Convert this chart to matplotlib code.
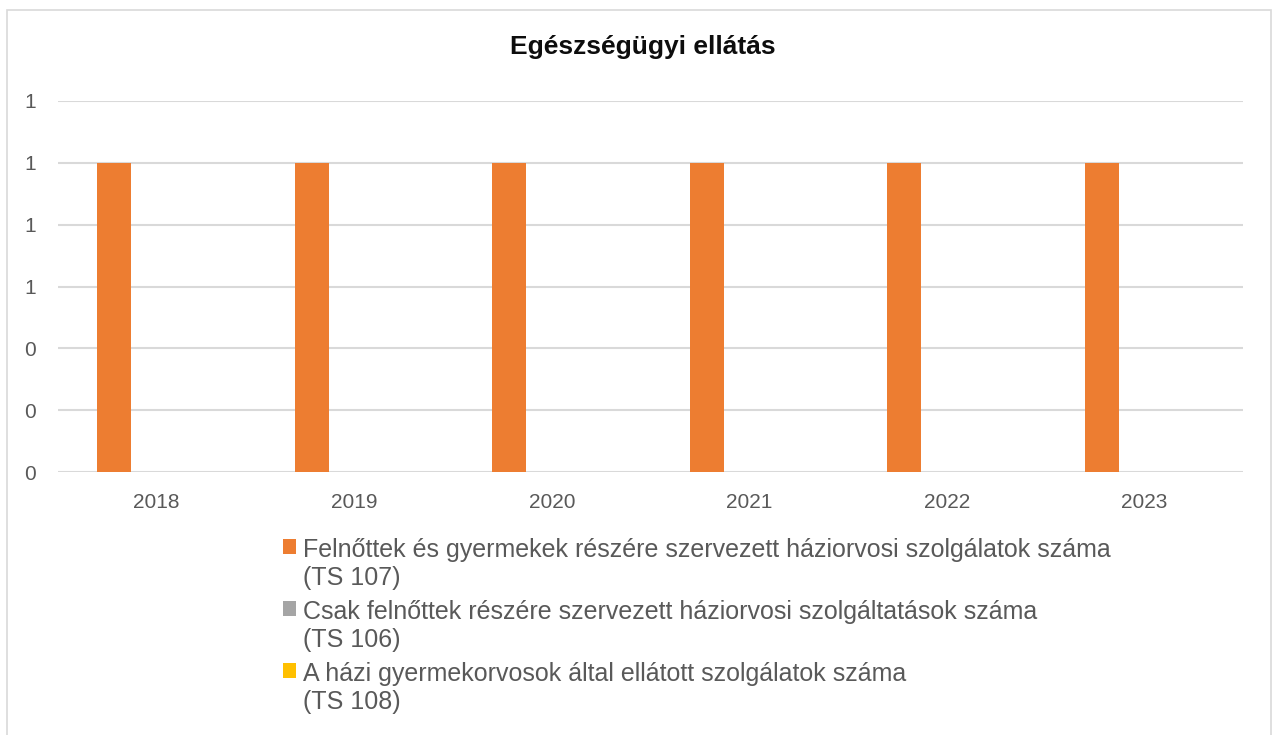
#!/usr/bin/env python3
# -*- coding: utf-8 -*-

import numpy as np
import matplotlib
matplotlib.use("Agg")
import matplotlib.pyplot as plt
from matplotlib.patches import Rectangle
from matplotlib.container import BarContainer
from matplotlib.legend_handler import HandlerPatch
from matplotlib.ticker import FuncFormatter

# 数据
years = ["2018", "2019", "2020", "2021", "2022", "2023"]
series_names = [
    "Felnőttek és gyermekek részére szervezett háziorvosi szolgálatok száma\n(TS 107)",
    "Csak felnőttek részére szervezett háziorvosi szolgáltatások száma\n(TS 106)",
    "A házi gyermekorvosok által ellátott szolgálatok száma\n(TS 108)",
]
ts107 = [1, 1, 1, 1, 1, 1]
ts106 = [0, 0, 0, 0, 0, 0]
ts108 = [0, 0, 0, 0, 0, 0]
colors = ["#ed7d31", "#a5a5a5", "#ffc000"]

plt.rcParams["font.family"] = ["Liberation Sans", "DejaVu Sans"]

fig = plt.figure(figsize=(12.72, 7.35), dpi=100)
ax = fig.add_axes([58 / 1272, 1 - 472 / 735, (1243 - 58) / 1272, (472 - 101) / 735])

x = np.arange(len(years))
width = 0.172
offsets = [-0.216, -0.044, 0.128]
for vals, off, c, name in zip([ts107, ts106, ts108], offsets, colors, series_names):
    ax.bar(x + off, vals, width, color=c, label=name, zorder=3)

ax.set_xlim(-0.5, len(years) - 0.5)
ax.set_ylim(0, 1.2)
ax.set_yticks(np.arange(0, 1.21, 0.2))
ax.yaxis.set_major_formatter(FuncFormatter(lambda v, p: "%.0f" % v))
ax.set_xticks(x)
ax.set_xticklabels(years)
ax.tick_params(axis="both", length=0, labelsize=15, colors="#595959")
ax.tick_params(axis="y", pad=16)
ax.tick_params(axis="x", pad=15)
ax.grid(axis="y", color="#d9d9d9", linewidth=1.5, zorder=0)
for s in ax.spines.values():
    s.set_visible(False)

fig.text(0.505, 1 - 47 / 735, "Egészségügyi ellátás", ha="center", va="center",
         fontsize=19, fontweight="bold", color="#0d0d0d")


# 图例方块对齐第一行
def top_square(legend, orig_handle, xdescent, ydescent, width, height, fontsize):
    return Rectangle((-xdescent, -ydescent + 0.72 * fontsize), width, height)


def first_bar(legend_handle, orig_handle):
    legend_handle.update_from(orig_handle.patches[0])


handles, labels = ax.get_legend_handles_labels()
leg = fig.legend(handles, labels, loc="upper left",
                 bbox_to_anchor=(260 / 1272, 1 - 515 / 735),
                 frameon=False, fontsize=18, labelcolor="#595959",
                 handlelength=0.55, handleheight=0.55, handletextpad=0.28,
                 labelspacing=0.4,
                 handler_map={BarContainer: HandlerPatch(patch_func=top_square,
                                                         update_func=first_bar)})
for t in leg.get_texts():
    t.set_linespacing(1.22)

# 外框
fig.patches.append(Rectangle((7 / 1272, -0.01), (1271 - 7) / 1272, 1 - 10 / 735 + 0.01,
                             transform=fig.transFigure, fill=False,
                             edgecolor="#d9d9d9", linewidth=1.2))

fig.savefig("out.png", dpi=100)
plt.close(fig)
